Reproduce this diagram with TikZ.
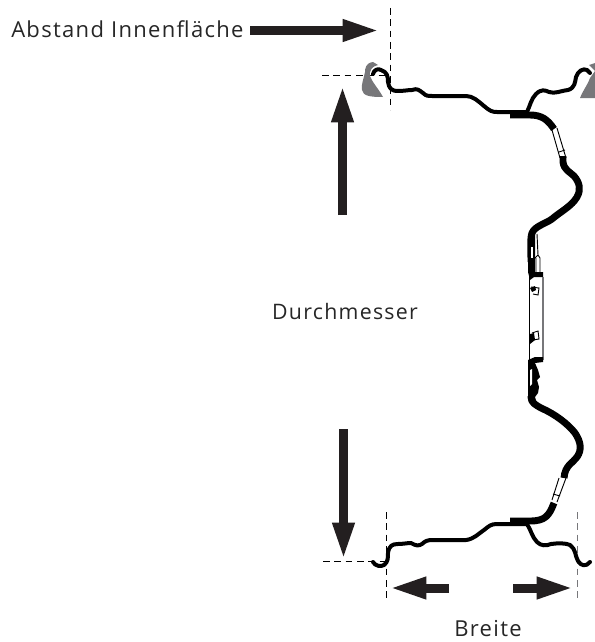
\documentclass[tikz,border=0pt]{standalone}
\usepackage{fontspec}
\setmainfont[LetterSpace=6]{Open Sans}
\usetikzlibrary{arrows.meta}
\definecolor{arrowblack}{HTML}{231F20}
\definecolor{hubgrey}{HTML}{77777A}
\tikzset{
  blockarrow/.style={draw=arrowblack,line width=6.75pt,-{Triangle[length=28pt,width=15pt]}},
  dimline/.style={dashed,dash pattern=on 5pt off 3.5pt,line width=.6pt},
  rimline/.style={line width=3pt,line cap=round,line join=round},
  rimthick/.style={line width=5.2pt,line join=round},
  rimfine/.style={line width=.7pt},
  label/.style={text=black!85,font=\fontsize{16}{19}\selectfont,inner sep=0pt}
}
\begin{document}
\begin{tikzpicture}[x=.75pt,y=-.75pt]
\useasboundingbox (0,0) rectangle (595,642);
% labels
\node[label,anchor=west,font=\fontsize{16.5}{19}\selectfont] (abstand) at (11,29) {Abstand Innenfläche};
\node[label] (durchmesser) at (345,311) {Durchmesser};
\node[label,font=\fontsize{16.5}{19}\selectfont] (breite) at (488,629) {Breite};
% dimension lines
\coordinate (a1) at (390,8);
\coordinate (a2) at (390,110);
\coordinate (b1) at (322,75);
\coordinate (b2) at (388,75);
\coordinate (c1) at (386,512);
\coordinate (c2) at (386,600);
\coordinate (d1) at (577,512);
\coordinate (d2) at (577,600);
\coordinate (e1) at (323,561);
\coordinate (e2) at (385,561);
\draw[dimline] (a1) -- (a2);
\draw[dimline] (b1) -- (b2);
\draw[dimline] (c1) -- (c2);
\draw[dimline,hubgrey] (d1) -- (d2);
\draw[dimline] (e1) -- (e2);
% arrows
\coordinate (f1) at (250,30.5);
\coordinate (f2) at (380,30.5);
\coordinate (g1) at (342.5,215);
\coordinate (g2) at (342.5,85);
\coordinate (h1) at (343.5,429);
\coordinate (h2) at (343.5,560);
\coordinate (i1) at (449,588);
\coordinate (i2) at (389,588);
\coordinate (j1) at (513,588);
\coordinate (j2) at (574,588);
\draw[blockarrow] (f1) -- (f2);
\draw[blockarrow] (g1) -- (g2);
\draw[blockarrow] (h1) -- (h2);
\draw[blockarrow] (i1) -- (i2);
\draw[blockarrow] (j1) -- (j2);
% grey tyre beads
\fill[hubgrey] (373,62) .. controls (366,63) and (365,68) .. (365,72) .. controls (364,78) and (361,84) .. (362,90)
  .. controls (363,96) and (370,97) .. (383,97) .. controls (378,88) and (372,82) .. (370,76)
  .. controls (369,71) and (372,66) .. (378,65) -- cycle;
\fill[hubgrey] (595,63) -- (589,65) -- (595,71) -- (590,78) .. controls (587,86) and (582,92) .. (580,98) -- (595,98) -- cycle;
% rim, top half
\draw[rimline] (373,74) .. controls (374,70) and (378,68) .. (381,70) .. controls (387,72) and (388,76) .. (388,82)
  .. controls (389,88) and (391,91) .. (398,91) .. controls (404,91) and (408,90) .. (412,90)
  .. controls (417,88) and (419,90) .. (423,93) .. controls (426,96) and (428,96) .. (432,96)
  -- (466,96) .. controls (473,96) and (478,101) .. (484,106) .. controls (490,111) and (492,112) .. (497,112) -- (527,112);
\draw[rimline] (527,112) .. controls (530,106) and (531,99) .. (536,94) .. controls (541,89) and (545,90) .. (549,92)
  .. controls (555,94) and (560,91) .. (568,90) .. controls (575,88) and (575,82) .. (576,77)
  .. controls (578,71) and (583,68) .. (587,70) -- (590,73);
\draw[rimthick] (510,115) -- (530,115) .. controls (542,115) and (548,120) .. (554,129);
\draw[rimfine] (552,130) -- (560,158) (557,128) -- (566,158) (559,152) -- (565,150);
\draw[rimthick] (563,156) -- (563,162) .. controls (564,170) and (570,172) .. (574,176)
  .. controls (580,183) and (581,190) .. (577,197) .. controls (572,206) and (560,212) .. (552,219)
  .. controls (545,224) and (535,226) .. (532,233) .. controls (530,238) and (531,250) .. (531,262);
% hub plate
\fill (531,233) -- (535,231) -- (535,262) -- (535,272) -- (543,272) -- (543,277) -- (534,277) -- (530,280) -- (528,272) -- (528,238) -- cycle;
\fill[white] (530.5,247) rectangle (533,258);
\draw[rimfine] (537,234) -- (538,255) -- (535,258) (538,255) -- (540,258) -- (540,273) (536,258) -- (536,272);
\draw[hubgrey,line width=1.1pt] (543,277) -- (543,360);
\draw[rimfine] (529,277) -- (529,360);
\draw[rimfine] (531,287) -- (539,288) -- (538,295) -- (533,294);
\fill (530,288) -- (535,286) -- (536,290) -- (532,292) -- cycle;
\draw[rimfine] (532,333) -- (538,331) -- (539,339) -- (533,340);
\fill (530,334) -- (534,333) -- (535,340) -- (530,344) -- cycle;
% rim, bottom half
\fill (528,360) -- (535,357) -- (543,357) -- (543,362) -- (535,363) -- (538,370) -- (540,377) -- (537,380) -- (539,387) -- (538,393) -- (535,397) -- (537,404) -- (531,400) -- (528,396) -- cycle;
\fill[white] (530,370) -- (532,369) -- (532,384) -- (530,386) -- cycle;
\draw[rimthick] (531,396) -- (531,397) .. controls (531,403) and (536,405) .. (541,408)
  .. controls (555,414) and (568,424) .. (575,433) .. controls (581,442) and (582,450) .. (577,457)
  .. controls (573,463) and (565,465) .. (564,478);
\draw[rimfine] (559,478) -- (552,500) (566,478) -- (557,502) (553,494) -- (560,496);
\draw[rimthick] (554,503) .. controls (549,516) and (545,521) .. (530,521) -- (510,521);
\draw[rimline] (373,562) .. controls (375,566) and (381,567) .. (384,565) .. controls (388,562) and (388,558) .. (388,553)
  .. controls (389,546) and (392,544) .. (398,544) .. controls (403,544) and (407,543) .. (411,543)
  .. controls (416,546) and (419,546) .. (422,544) .. controls (425,541) and (428,540) .. (432,540)
  -- (466,540) .. controls (474,539) and (478,534) .. (484,530) .. controls (489,526) and (491,524) .. (497,524) -- (527,524);
\draw[rimline] (527,524) .. controls (531,530) and (532,537) .. (537,542) .. controls (541,546) and (546,546) .. (551,544)
  .. controls (558,543) and (566,543) .. (570,545) .. controls (576,549) and (575,556) .. (578,561)
  .. controls (581,566) and (586,567) .. (590,562);
\end{tikzpicture}
\end{document}
